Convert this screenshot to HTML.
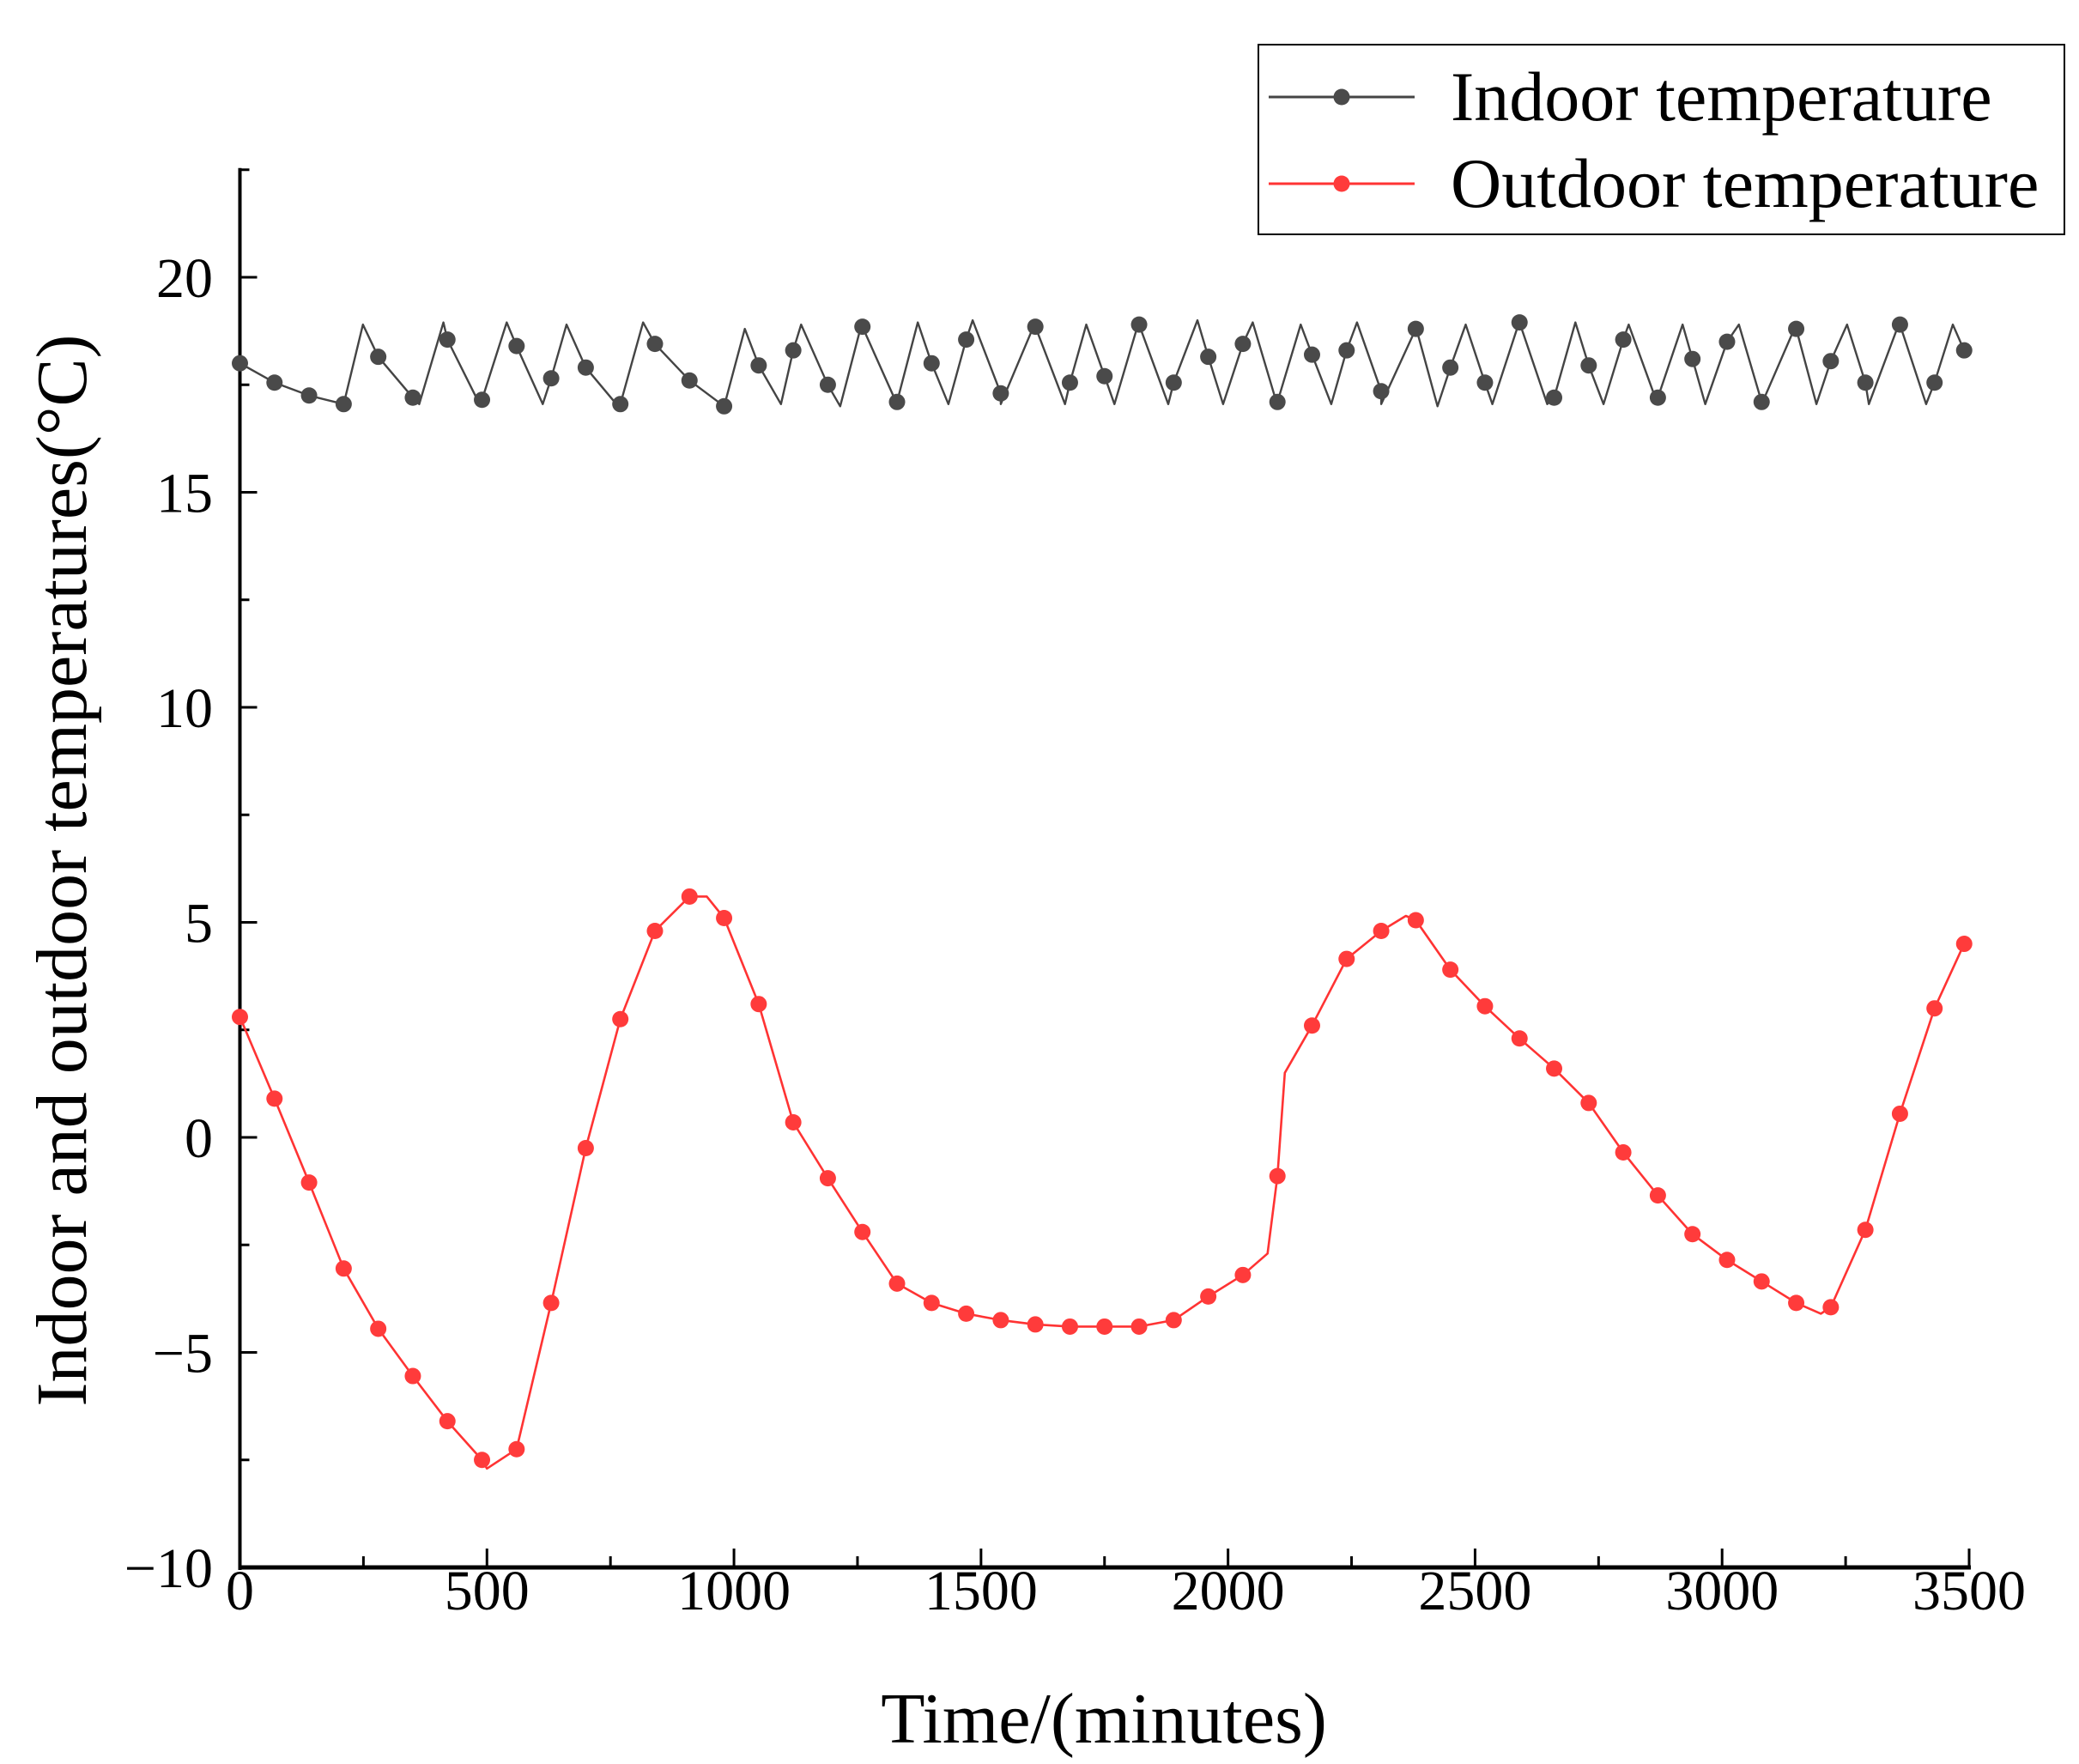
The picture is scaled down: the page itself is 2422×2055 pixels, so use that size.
<!DOCTYPE html>
<html><head><meta charset="utf-8"><style>
html,body{margin:0;padding:0;background:#fff;}
svg{display:block;font-family:"Liberation Serif",serif;}
</style></head><body>
<svg id="chart" width="2422" height="2055" viewBox="0 0 2422 2055" xmlns="http://www.w3.org/2000/svg">
<g id="axes"></g>
<g id="series"></g>
<text x="1286" y="2030" font-size="84" text-anchor="middle">Time/(minutes)</text>
<text transform="translate(100,1014) rotate(-90)" font-size="84" text-anchor="middle">Indoor and outdoor temperatures(°C)</text>
<g>
<rect x="1466" y="52" width="939" height="221" fill="#fff" stroke="#000" stroke-width="2"/>
<g>
<line x1="1478" y1="113" x2="1648" y2="113" stroke="#444" stroke-width="3"/>
<circle cx="1563" cy="113" r="9.5" fill="#4a4a4a"/>
<text x="1690" y="140" font-size="82">Indoor temperature</text>
</g>
<g>
<line x1="1478" y1="214" x2="1648" y2="214" stroke="#ff3333" stroke-width="3"/>
<circle cx="1563" cy="214" r="9.5" fill="#ff3b3b"/>
<text x="1690" y="241" font-size="82">Outdoor temperature</text>
</g>
</g>
</svg>
<script>
// ---- data ----
const markerTimes = [0,70,140,210,280,350,420,490,560,630,700,770,840,910,980,1050,1120,1190,1260,1330,1400,1470,1540,1610,1680,1750,1820,1890,1960,2030,2100,2170,2240,2310,2380,2450,2520,2590,2660,2730,2800,2870,2940,3010,3080,3150,3220,3290,3360,3430,3490];
const indoorValues = [18.0,17.55,17.25,17.05,18.15,17.2,18.55,17.15,18.4,17.65,17.9,17.05,18.45,17.6,17.0,17.95,18.3,17.5,18.85,17.1,18.0,18.55,17.3,18.85,17.55,17.7,18.9,17.55,18.15,18.45,17.1,18.2,18.3,17.35,18.8,17.9,17.55,18.95,17.2,17.95,18.55,17.2,18.1,18.5,17.1,18.8,18.05,17.55,18.9,17.55,18.3];
const outdoorValues = [2.8,0.9,-1.05,-3.05,-4.45,-5.55,-6.6,-7.5,-7.25,-3.85,-0.25,2.75,4.8,5.6,5.1,3.1,0.35,-0.95,-2.2,-3.4,-3.85,-4.1,-4.25,-4.35,-4.4,-4.4,-4.4,-4.25,-3.7,-3.2,-0.9,2.6,4.15,4.8,5.05,3.9,3.05,2.3,1.6,0.8,-0.35,-1.35,-2.25,-2.85,-3.35,-3.85,-3.95,-2.15,0.55,3.0,4.5];
const indoorPeakTimes = [249,412,540,661,816,1022,1136,1258,1372,1483,1608,1713,1819,1938,2050,2147,2261,2380,2481,2589,2703,2811,2920,3034,3148,3253,3359,3467];
const indoorPeakValue = [18.9,18.95,18.95,18.9,18.95,18.8,18.9,18.9,18.95,19.0,18.9,18.9,18.95,19.0,18.95,18.9,18.95,18.85,18.9,18.95,18.95,18.9,18.9,18.9,18.85,18.9,18.95,18.9];
const indoorTroughTimes = [363,485,613,762,1095,1215,1328,1434,1540,1670,1770,1879,1990,2098,2209,2310,2424,2535,2646,2760,2868,2966,3080,3191,3297,3413];
const indoorTroughValue = [17.05,17.05,17.05,17.05,17.05,17.0,17.1,17.05,17.05,17.05,17.05,17.05,17.05,17.1,17.05,17.05,17.0,17.05,17.05,17.05,17.1,17.05,17.05,17.05,17.05,17.05];
const outdoorExtraTimes = [500,945,2080,2115,2360,3200];
const outdoorExtraValues = [-7.7,5.6,-2.7,1.5,5.15,-4.1];
const xTicks = [0,500,1000,1500,2000,2500,3000,3500];
const yTicks = [-10,-5,0,5,10,15,20];
const xTickLabels = ["0","500","1000","1500","2000","2500","3000","3500"];
const yTickLabels = ["\u221210","\u22125","0","5","10","15","20"];

// ---- axis functions ----
const X0=279.5, X1=2294, Y20=323, YM10=1826;
const xs = t => X0 + (t/3500)*(X1-X0);
const ys = v => YM10 - (v+10)/30*(YM10-Y20);
const NS="http://www.w3.org/2000/svg";
function mk(tag, attrs, parent){const e=document.createElementNS(NS,tag);for(const k in attrs)e.setAttribute(k,attrs[k]);parent.appendChild(e);return e;}
const axes=document.getElementById('axes'), series=document.getElementById('series');

let l=mk('line',{x1:X0,y1:ys(22.5)-2,x2:X0,y2:ys(-10)+3,stroke:'#000','stroke-width':4},axes);


l=mk('line',{x1:X0-2,y1:ys(-10),x2:X1+2,y2:ys(-10),stroke:'#000','stroke-width':5},axes);



for(let t=0;t<=3500;t+=250){
  const major=t%500===0;
  const e=mk('line',{x1:xs(t),y1:ys(-10),x2:xs(t),y2:ys(-10)-(major?22:13),stroke:'#000','stroke-width':3},axes);
  
  
}
xTicks.forEach((t,i)=>{
  const e=mk('text',{x:xs(t),y:1875,'font-size':66,'text-anchor':'middle'},axes);
  e.textContent=xTickLabels[i];
  
  
});
for(let v=-10;v<=22.5;v+=2.5){
  const major=v%5===0;
  const e=mk('line',{x1:X0,y1:ys(v),x2:X0+(major?20:11),y2:ys(v),stroke:'#000','stroke-width':3},axes);
  
  
}
yTicks.forEach((v,i)=>{
  const e=mk('text',{x:248,y:ys(v)+23,'font-size':66,'text-anchor':'end'},axes);
  e.textContent=yTickLabels[i];
  
  
});

function buildPath(ts,vs){
  const pts=ts.map((t,i)=>[t,vs[i]]).sort((a,b)=>a[0]-b[0]);
  return pts.map((p,i)=>(i?'L':'M')+xs(p[0]).toFixed(1)+' '+ys(p[1]).toFixed(1)).join(' ');
}
const inT=markerTimes.concat(indoorPeakTimes,indoorTroughTimes);
const inV=indoorValues.concat(indoorPeakValue,indoorTroughValue);
let p=mk('path',{d:buildPath(inT,inV),fill:'none',stroke:'#444','stroke-width':2.4,'stroke-linejoin':'round'},series);


const outT=markerTimes.concat(outdoorExtraTimes);
const outV=outdoorValues.concat(outdoorExtraValues);
p=mk('path',{d:buildPath(outT,outV),fill:'none',stroke:'#ff3333','stroke-width':2.6,'stroke-linejoin':'round'},series);



markerTimes.forEach((t,i)=>{
  const c=mk('circle',{cx:xs(t),cy:ys(indoorValues[i]),r:9.5,fill:'#4a4a4a'},series);
  
  
  const d=mk('circle',{cx:xs(t),cy:ys(outdoorValues[i]),r:9.5,fill:'#ff3b3b'},series);
  
  
});
</script>
</body></html>
